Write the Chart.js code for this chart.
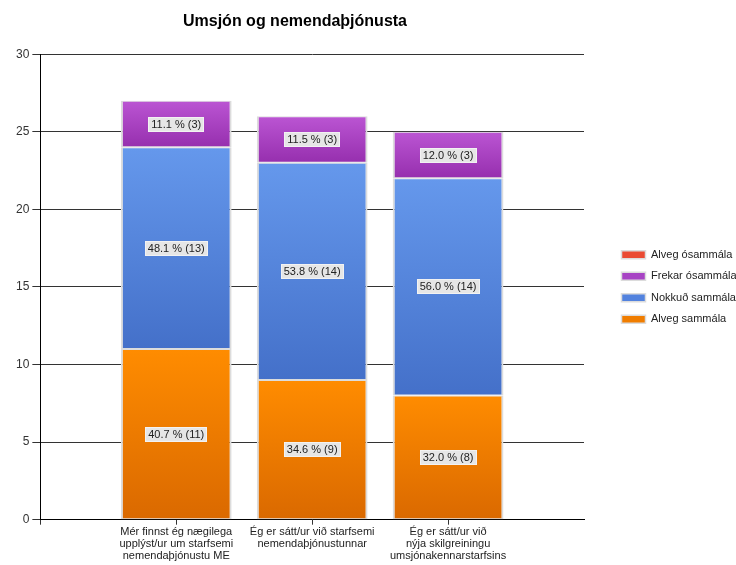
<!DOCTYPE html>
<html>
<head>
<meta charset="utf-8">
<script src="https://cdn.jsdelivr.net/npm/chart.js@4"></script>
<style>
  html, body { margin: 0; padding: 0; background: #fff; }
  #wrap { width: 736px; height: 565px; }
</style>
</head>
<body>
<div id="wrap"><canvas id="surveyChart"></canvas></div>
<script>
// Categories (questions) and answer counts per category
const categories = [
    ["Mér finnst ég nægilega", "upplýst/ur um starfsemi", "nemendaþjónustu ME"],
    ["Ég er sátt/ur við starfsemi", "nemendaþjónustunnar"],
    ["Ég er sátt/ur við", "nýja skilgreiningu", "umsjónakennarstarfsins"]
];
const alvegSammala = [11, 9, 8];
const nokkudSammala = [13, 14, 14];
const frekarOsammala = [3, 3, 3];
const alvegOsammala = [0, 0, 0];
const yTicks = [0, 5, 10, 15, 20, 25, 30];

const FONT = "'Liberation Sans', Arial, sans-serif";

// empty slot on each side, like the original layout
function pad(arr) { return [null].concat(arr, [null]); }

// each segment gets its own top-to-bottom gradient
function gradientFill(top, bottom, flat) {
    return function (c) {
        if (c.type !== "data" || !c.raw) return flat;
        const chart = c.chart;
        const y = chart.scales.y;
        if (!y || !chart.chartArea) return flat;
        let start = 0;
        for (let i = 0; i < c.datasetIndex; i++) {
            start += chart.data.datasets[i].data[c.dataIndex] || 0;
        }
        const end = start + c.raw;
        const g = chart.ctx.createLinearGradient(0, y.getPixelForValue(end), 0, y.getPixelForValue(start));
        g.addColorStop(0, top);
        g.addColorStop(1, bottom);
        return g;
    };
}

// "40.7 % (11)" labels in grey boxes
const segmentLabels = {
    id: "segmentLabels",
    afterDatasetsDraw(chart) {
        const ctx = chart.ctx;
        const sets = chart.data.datasets;
        ctx.save();
        ctx.font = "11px " + FONT;
        ctx.textAlign = "center";
        ctx.textBaseline = "middle";
        sets.forEach((ds, di) => {
            const meta = chart.getDatasetMeta(di);
            meta.data.forEach((el, i) => {
                const v = ds.data[i];
                if (!v) return;
                let total = 0;
                sets.forEach(s => { total += s.data[i] || 0; });
                const text = (v / total * 100).toFixed(1) + " % (" + v + ")";
                const cx = el.x;
                const cy = (el.y + el.base) / 2;
                const w = Math.round(ctx.measureText(text).width + 6);
                const h = 15;
                const bx = Math.round(cx - w / 2);
                const by = Math.round(cy - h / 2);
                ctx.fillStyle = "#e6e6e6";
                ctx.fillRect(bx, by, w, h);
                ctx.strokeStyle = "#f2f2f2";
                ctx.lineWidth = 1;
                ctx.strokeRect(bx + 0.5, by + 0.5, w - 1, h - 1);
                ctx.fillStyle = "#222";
                ctx.fillText(text, cx, by + h / 2 + 0.5);
            });
        });
        ctx.restore();
    }
};

// shift the title a little left, as in the original
const titleShift = {
    id: "titleShift",
    afterLayout(chart) {
        if (chart.titleBlock) chart.titleBlock.left = 6;
    }
};

const border = { left: 2, right: 2, top: 1, bottom: 1 };

new Chart(document.getElementById("surveyChart"), {
    type: "bar",
    data: {
        labels: [""].concat(categories, [""]),
        datasets: [{
            label: "Alveg sammála",
            data: pad(alvegSammala),
            backgroundColor: gradientFill("#ff8c00", "#da6900", "#f07d00")
        }, {
            label: "Nokkuð sammála",
            data: pad(nokkudSammala),
            backgroundColor: gradientFill("#6598ec", "#4470c9", "#5282de")
        }, {
            label: "Frekar ósammála",
            data: pad(frekarOsammala),
            backgroundColor: gradientFill("#bb55d3", "#962fae", "#a743c4")
        }, {
            label: "Alveg ósammála",
            data: pad(alvegOsammala),
            backgroundColor: gradientFill("#f45a40", "#d83a22", "#ea4b33")
        }]
    },
    options: {
        responsive: true,
        maintainAspectRatio: false,
        animation: false,
        layout: { padding: { left: 13, right: 0, top: 0, bottom: 2 } },
        datasets: {
            bar: {
                borderColor: "#dcdcdc",
                borderWidth: border,
                borderSkipped: false,
                categoryPercentage: 1,
                barPercentage: 0.815
            }
        },
        scales: {
            x: {
                stacked: true,
                offset: false,
                grid: {
                    offset: false,
                    drawOnChartArea: false,
                    drawTicks: true,
                    tickLength: 5,
                    color: c => (c.index === 4 ? "rgba(0,0,0,0)" : "#333")
                },
                border: { color: "#000", width: 1 },
                ticks: {
                    autoSkip: false,
                    maxRotation: 0,
                    padding: 1,
                    color: "#222",
                    font: { family: FONT, size: 11, lineHeight: 1.1 }
                }
            },
            y: {
                stacked: true,
                min: 0,
                max: 30,
                afterBuildTicks: s => { s.ticks = yTicks.map(v => ({ value: v })); },
                grid: { color: "#333", tickLength: 8 },
                border: { color: "#000", width: 1 },
                ticks: {
                    padding: 3,
                    color: "#333",
                    font: { family: FONT, size: 12 }
                }
            },
            y2: {
                type: "linear",
                position: "right",
                display: true,
                grid: { display: false },
                border: { display: false },
                ticks: { display: false },
                afterFit: s => { s.width = 27; }
            }
        },
        plugins: {
            title: {
                display: true,
                text: "Umsjón og nemendaþjónusta",
                fullSize: false,
                color: "#000",
                font: { family: FONT, size: 16, weight: "bold", lineHeight: 1.2 },
                padding: { top: 12, bottom: 23 }
            },
            legend: {
                position: "right",
                fullSize: false,
                reverse: true,
                maxWidth: 125,
                labels: {
                    boxWidth: 24,
                    boxHeight: 8,
                    padding: 10.5,
                    color: "#222",
                    font: { family: FONT, size: 11 }
                }
            },
            tooltip: { enabled: false }
        }
    },
    plugins: [segmentLabels, titleShift]
});
</script>
</body>
</html>
